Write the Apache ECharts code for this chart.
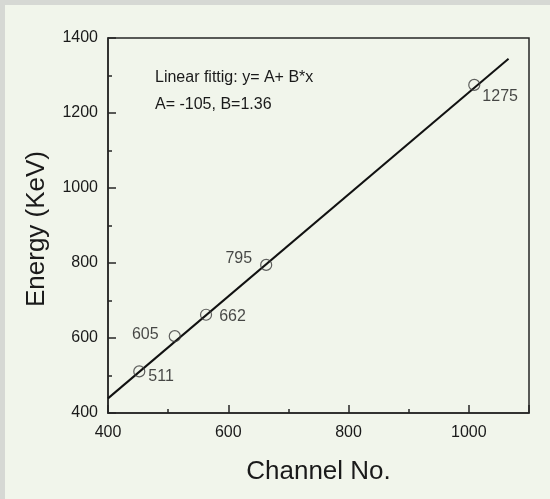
<!DOCTYPE html>
<html>
<head>
<meta charset="utf-8">
<script src="https://cdn.jsdelivr.net/npm/echarts@6/dist/echarts.min.js"></script>
<style>
  html, body { margin: 0; padding: 0; background: #f1f5eb; }
  #frame { position: absolute; left: 0; top: 0; width: 550px; height: 499px;
           border-top: 5px solid #d6d8d4; border-left: 5px solid #d6d8d4; box-sizing: border-box; }
  #chart { position: absolute; left: 0; top: 0; width: 550px; height: 499px; }
</style>
</head>
<body>
<div id="frame"></div>
<div id="chart"></div>
<script>
// Calibration peaks: channel number vs. gamma energy (keV)
const channels = [452, 511, 563, 663, 1009];
const energies = [511, 605, 662, 795, 1275];
const peakLabels = ['511', '605', '662', '795', '1275'];

// Linear fit y = A + B*x
const fitA = -105;
const fitB = 1.36;
const fitRange = [400, 1066];

const xTicks = [400, 600, 800, 1000];
const yTicks = [400, 600, 800, 1000, 1200, 1400];

const font = '"Liberation Sans", Arial, sans-serif';
const ink = '#1a1a1a';

// label placement for each peak annotation
const labelPlacement = [
  { position: 'right', offset: [-2, 5] },
  { position: 'left', offset: [-5, -2] },
  { position: 'right', offset: [2, 2] },
  { position: 'left', offset: [-3, -6] },
  { position: 'right', offset: [-3, 12] }
];

const fitLine = fitRange.map(x => [x, fitA + fitB * x]);

const points = channels.map((c, i) => ({
  value: [c, energies[i]],
  label: Object.assign({
    show: true,
    formatter: peakLabels[i],
    fontFamily: font,
    fontSize: 16,
    color: ink
  }, labelPlacement[i])
}));

const axisStroke = { color: '#262626', width: 1.5 };

const chart = echarts.init(document.getElementById('chart'), null, { renderer: 'canvas' });
chart.setOption({
  backgroundColor: 'transparent',
  animation: false,
  grid: {
    left: 108, right: 21, top: 38, bottom: 86,
    show: true, borderColor: '#262626', borderWidth: 1.5, backgroundColor: 'transparent'
  },
  xAxis: {
    type: 'value', min: 400, max: 1100, interval: 200,
    name: 'Channel No.', nameLocation: 'middle', nameGap: 46,
    nameTextStyle: { fontFamily: font, fontSize: 26, color: ink },
    axisLine: { show: true, onZero: false, lineStyle: axisStroke },
    axisTick: { show: true, inside: true, length: 8, lineStyle: axisStroke },
    minorTick: { show: true, splitNumber: 2, length: 4, lineStyle: axisStroke },
    axisLabel: {
      fontFamily: font, fontSize: 16, color: ink, margin: 12,
      formatter: v => xTicks.includes(v) ? String(v) : ''
    },
    splitLine: { show: false }
  },
  yAxis: {
    type: 'value', min: 400, max: 1400, interval: 200,
    axisLine: { show: true, onZero: false, lineStyle: axisStroke },
    axisTick: { show: true, inside: true, length: 8, lineStyle: axisStroke },
    minorTick: { show: true, splitNumber: 2, length: 4, lineStyle: axisStroke },
    axisLabel: {
      fontFamily: font, fontSize: 16, color: ink, margin: 10,
      formatter: v => yTicks.includes(v) ? String(v) : ''
    },
    splitLine: { show: false }
  },
  graphic: [
    {
      type: 'text', x: 37, y: 229, rotation: Math.PI / 2,
      style: {
        text: 'Energy (KeV)', fontFamily: font, fontSize: 26, fill: ink,
        align: 'center', verticalAlign: 'middle'
      }
    },
    {
      type: 'text', x: 155, y: 78,
      style: {
        text: 'Linear fittig: y= A+ B*x', fontFamily: font, fontSize: 16, fill: ink,
        align: 'left', verticalAlign: 'middle'
      }
    },
    {
      type: 'text', x: 155, y: 105,
      style: {
        text: 'A= -105, B=1.36', fontFamily: font, fontSize: 16, fill: ink,
        align: 'left', verticalAlign: 'middle'
      }
    }
  ],
  series: [
    {
      type: 'line', data: fitLine, showSymbol: false, silent: true,
      lineStyle: { color: '#111', width: 2 }, z: 2
    },
    {
      type: 'scatter', data: points, symbol: 'circle', symbolSize: 11,
      itemStyle: { color: 'transparent', borderColor: '#3a3a3a', borderWidth: 1.2 }, z: 3
    }
  ]
});
</script>
</body>
</html>
